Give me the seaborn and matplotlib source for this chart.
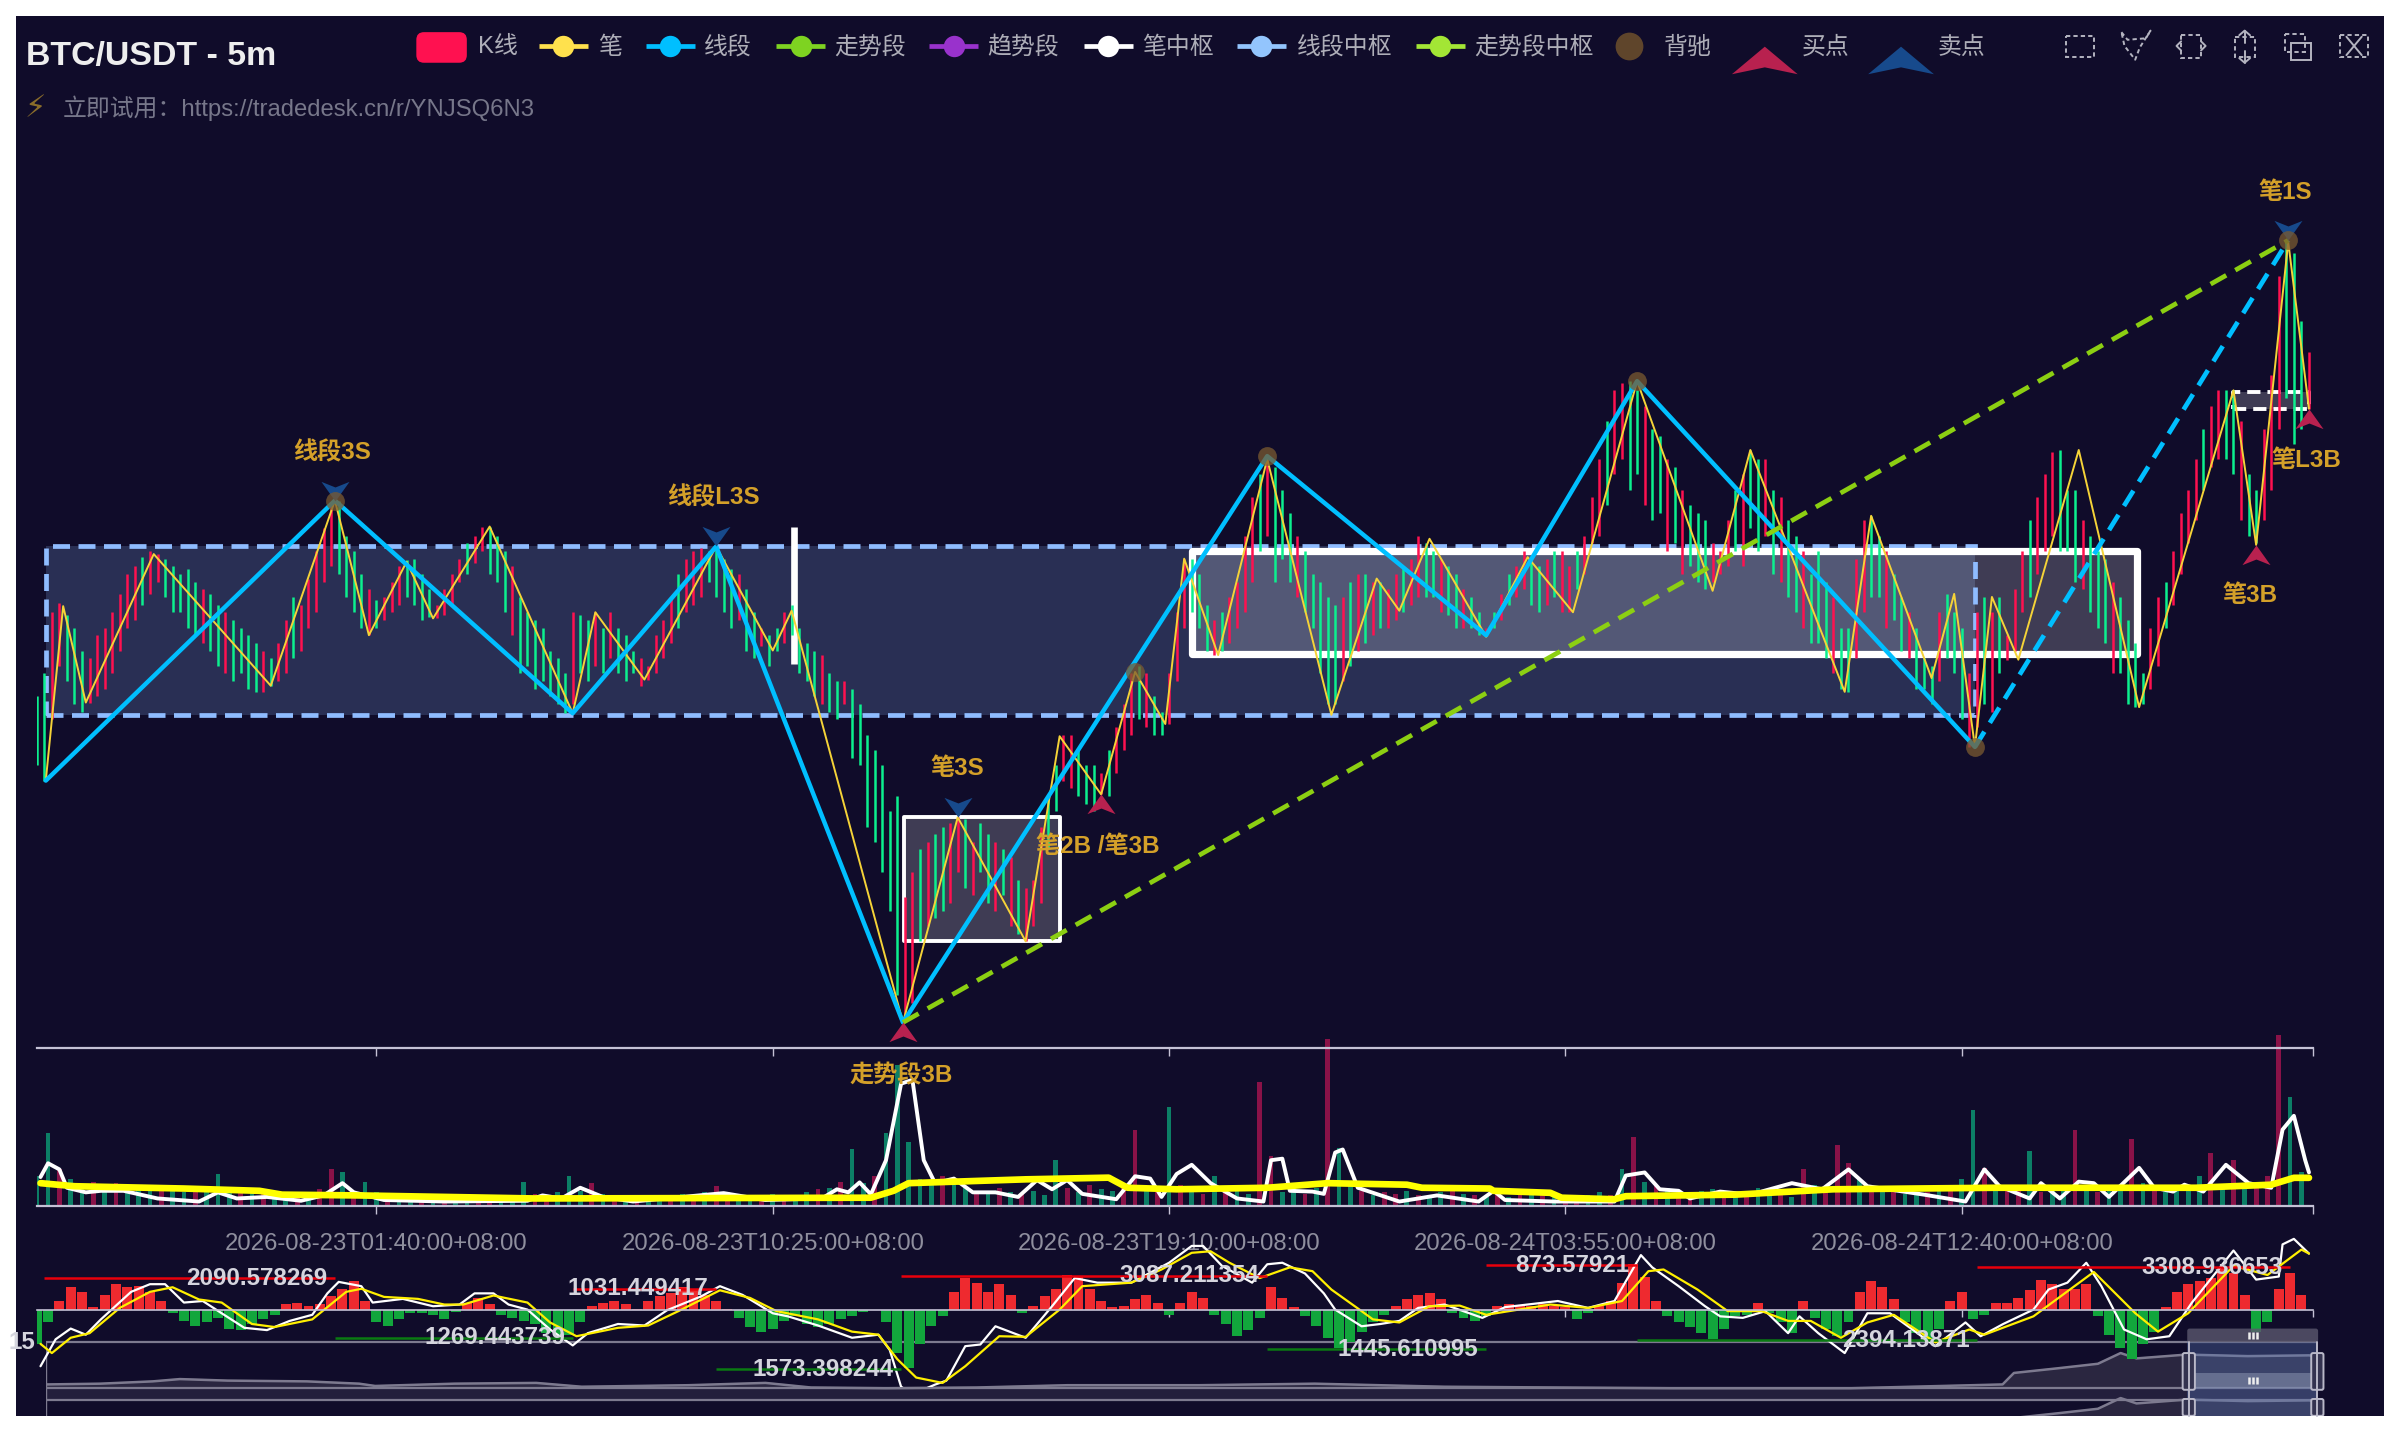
import matplotlib
matplotlib.use('Agg')
import matplotlib.pyplot as plt
import numpy as np
import seaborn as sns
from matplotlib.patches import Rectangle, FancyBboxPatch, Polygon
from matplotlib.path import Path

# --- 笔 / 线段 / 走势段 转折点 (bar index, price) ---
bi_x = [2.4, 7, 13, 31, 62, 79, 88, 98, 105, 120, 142, 148, 161, 180, 195, 200, 229.5, 244, 262, 271, 282, 291, 299, 304,
        313, 326, 343, 355, 361, 369, 384, 395, 407, 424, 444, 454, 479, 486, 502, 508, 513.5, 518, 525, 541, 557, 582,
        588, 596.5, 602]
bi_y = [490, 604, 541, 638, 552, 673, 585, 633, 596, 656, 534, 600, 556, 643, 575, 601, 332, 466, 385, 519, 481, 561,
        527, 635, 572, 700, 533, 622, 601, 648, 584, 636, 600, 751, 614, 706, 548, 663, 557, 612, 512, 610, 569, 706,
        538, 745, 644, 842, 733]
seg_x = [2.4, 79, 142, 180, 229.5, 326, 384, 424, 513.5]
seg_y = [490, 673, 534, 643, 332, 702, 585, 751, 512]
seg_dash_x = [513.5, 596.5]
seg_dash_y = [512, 843]
trend_x = [229.5, 596.5]
trend_y = [332, 843]

# K线: one candle every two bars, ten per row
kline_high = [
    545, 560, 600, 606, 598, 590, 575, 570, 585, 590,
    600, 612, 625, 630, 636, 640, 638, 635, 630, 625,
    628, 620, 615, 612, 605, 600, 595, 590, 585, 580,
    575, 570, 580, 595, 610, 605, 622, 640, 655, 672,
    673, 650, 640, 625, 615, 608, 610, 620, 630, 634,
    635, 625, 615, 605, 615, 625, 635, 645, 650, 656,
    656, 650, 640, 630, 610, 600, 595, 590, 575, 570,
    560, 600, 598, 595, 600, 590, 600, 590, 585, 575,
    570, 565, 585, 595, 610, 625, 635, 640, 642, 640,
    645, 635, 628, 625, 615, 600, 590, 585, 590, 600,
    605, 590, 580, 575, 572, 560, 555, 555, 550, 540,
    520, 510, 500, 470, 480, 414, 430, 445, 450, 455,
    460, 462, 466, 465, 450, 462, 455, 450, 445, 440,
    425, 420, 425, 460, 480, 500, 520, 520, 510, 500,
    500, 495, 510, 525, 540, 560, 565, 560, 545, 535,
    560, 600, 635, 635, 625, 605, 595, 600, 610, 620,
    650, 675, 690, 700, 695, 680, 665, 650, 640, 625,
    620, 610, 605, 610, 620, 625, 625, 620, 620, 615,
    625, 630, 635, 650, 645, 640, 635, 630, 625, 615,
    610, 600, 590, 600, 612, 625, 630, 640, 635, 630,
    635, 640, 640, 630, 640, 650, 675, 700, 725, 745,
    750, 751, 745, 735, 720, 715, 700, 695, 680, 670,
    665, 660, 645, 640, 660, 680, 690, 706, 700, 700,
    680, 675, 660, 650, 640, 625, 640, 620, 610, 590,
    590, 635, 660, 663, 650, 640, 625, 610, 600, 590,
    570, 565, 600, 612, 600, 590, 560, 600, 610, 600,
    610, 585, 615, 640, 660, 675, 690, 705, 706, 680,
    680, 660, 650, 640, 635, 620, 610, 595, 580, 560,
    590, 610, 620, 640, 665, 680, 700, 720, 735, 745,
    745, 745, 725, 690, 680, 720, 755, 820, 843, 835,
    790, 770]
kline_low = [
    500, 490, 530, 565, 555, 540, 535, 541, 545, 550,
    560, 575, 590, 595, 605, 612, 620, 610, 600, 600,
    590, 585, 580, 575, 565, 560, 555, 560, 550, 548,
    548, 552, 555, 560, 570, 575, 590, 600, 620, 630,
    625, 610, 600, 590, 585, 590, 595, 600, 605, 610,
    605, 595, 597, 596, 598, 605, 620, 625, 632, 640,
    625, 620, 600, 585, 560, 565, 550, 555, 545, 540,
    534, 540, 560, 555, 565, 560, 570, 560, 555, 560,
    552, 556, 560, 570, 580, 590, 600, 605, 610, 620,
    610, 600, 590, 595, 575, 570, 578, 565, 575, 580,
    585, 560, 555, 545, 540, 535, 530, 540, 505, 500,
    460, 450, 430, 405, 350, 332, 345, 385, 395, 400,
    405, 410, 430, 420, 415, 430, 410, 405, 415, 395,
    390, 385, 395, 410, 445, 470, 490, 485, 480, 475,
    470, 481, 480, 495, 510, 520, 530, 525, 520, 520,
    527, 555, 590, 600, 590, 575, 572, 575, 580, 590,
    600, 620, 640, 650, 620, 635, 620, 610, 600, 590,
    560, 540, 540, 555, 565, 575, 580, 585, 590, 590,
    595, 600, 605, 610, 610, 610, 600, 598, 590, 590,
    590, 585, 585, 590, 595, 605, 610, 615, 605, 600,
    605, 610, 600, 600, 615, 625, 645, 650, 670, 690,
    700, 680, 690, 670, 660, 665, 640, 645, 625, 630,
    620, 615, 620, 625, 630, 640, 630, 655, 640, 650,
    625, 620, 610, 600, 590, 580, 580, 570, 560, 550,
    548, 570, 600, 610, 610, 590, 595, 575, 570, 550,
    550, 540, 555, 570, 560, 530, 512, 525, 540, 535,
    560, 569, 575, 600, 610, 625, 640, 650, 640, 640,
    620, 615, 600, 590, 580, 560, 560, 540, 538, 540,
    550, 565, 590, 605, 625, 645, 660, 680, 695, 700,
    700, 690, 660, 650, 645, 660, 680, 720, 740, 710,
    720, 733]
kline_dir = ('DDUUDDDUUU' 'UUUUDUUDDD' 'DDUDDUDDDD' 'UDUUDUUUUU' 'DDDDUDUUUD' 'DDDUUUUDUU' 'DDDUDDDDDD' 'DUDDUDUDDD'
             'UUUUUDUUUD' 'DDDUDDUDDU' 'DDDDUDDUDD' 'DDDDDUUDUD' 'DUUDUDDUDU' 'DUUUDDUUDD' 'DUDUUUDUDD' 'UUUDDDUDUU'
             'UUDUDDDUDD' 'DDDUDUDUDU' 'UDUUDDUDDU' 'DDUDUDUUDD' 'UDUUDUUUDU' 'UDDUDDUDUD' 'DDUUUDUDDU' 'DUDDUDDDUD'
             'DUUDDUDDUD' 'DDUDDDUUDU' 'DUUUDUUUDD' 'DUDDDUDDDD' 'UUDUUUUDUU' 'DDUDDUUUDD' 'DU')

# 中枢 boxes: start bar, end bar, low, high
seg_zone = (2.4, 513.5, 533, 643)
bi_zone_a = (229.7, 271, 385, 466)
bi_zone_b = (306, 556.5, 573, 640)
bi_zone_c = (582, 602, 733, 744)
bi_zone_flat = (200.7, 566, 656)

# signals
div_x = [79, 291, 326, 424, 513.5, 596.5]
div_y = [673, 561, 702, 751, 512, 843]
sell_x = [79, 180, 244, 596.5]
sell_y = [673, 643, 466, 843]
buy_x = [229.5, 282, 588, 602]
buy_y = [332, 481, 644, 733]
label_text = ['线段3S', '线段L3S', '笔3S', '笔2B /笔3B', '走势段3B', '笔3B', '笔L3B', '笔1S']
label_x = [78.2, 179.2, 244, 281, 229, 586.4, 601.2, 595.6]
label_y = [704, 675, 498, 447, 297, 611, 699, 874]

# volume: one bar every three bars
vol = [
    20, 48, 24, 18, 14, 16, 12, 15, 13, 11,
    14, 12, 10, 9, 11, 13, 21, 10, 9, 12,
    8, 10, 9, 7, 9, 11, 24, 22, 10, 16,
    9, 8, 7, 6, 8, 5, 7, 6, 5, 6,
    5, 6, 7, 16, 8, 6, 9, 20, 10, 15,
    8, 6, 7, 5, 6, 7, 5, 8, 6, 9,
    13, 9, 7, 6, 5, 8, 5, 7, 9, 11,
    12, 16, 37, 15, 20, 48, 92, 42, 18, 14,
    20, 14, 12, 10, 8, 12, 9, 8, 10, 7,
    30, 12, 9, 14, 11, 10, 13, 50, 12, 9,
    65, 14, 10, 8, 20, 9, 12, 8, 81, 33,
    9, 12, 8, 12, 109, 38, 14, 10, 7, 9,
    8, 10, 7, 6, 9, 12, 8, 7, 6, 8,
    6, 8, 9, 7, 6, 5, 6, 7, 9, 7,
    24, 45, 16, 14, 12, 9, 8, 10, 11, 7,
    6, 8, 12, 8, 10, 6, 24, 14, 9, 40,
    28, 18, 10, 9, 12, 8, 7, 9, 11, 10,
    18, 63, 25, 12, 14, 10, 36, 9, 12, 11,
    50, 12, 9, 10, 14, 44, 15, 10, 9, 12,
    14, 20, 35, 13, 30, 15, 12, 20, 112, 71,
    22]
vol_dir = ('DDUDDUDUDD' 'DUDDUDDDUD' 'UDDUDUUDUD' 'DUDDUDUDDU' 'UDDDUUDDDU' 'DUDUDDUDUD' 'UUDDUDUDDU' 'DUDDUDDDDD'
           'UDDUDUDUDD' 'DUDUDDUUDU' 'DUDUDUDDUU' 'DDUDUDDUDU' 'UDUDDUDUDU' 'DUDUDUUDDU' 'DUDUDUUDDU' 'DUDDUDUDUU'
           'UDUDUDDUDU' 'DDUDUUDUDD' 'UDUDDUDUDD' 'DDUDUDUUUD' 'D')
vol_ma_x = [1, 3, 6, 8, 13, 17, 23, 32, 43, 48, 53, 61, 70, 76, 81, 84, 92, 108, 130, 134, 139, 144, 150, 158, 182, 193,
            208, 212, 215, 218, 221, 225, 229, 232, 235, 238, 243, 248, 254, 260, 265, 269, 273, 277, 286, 291, 295,
            298, 302, 306, 311, 318, 325, 327, 330, 332, 338, 341, 344, 346, 350, 361, 371, 382, 386, 389, 402, 418,
            421, 426, 430, 435, 438, 446, 454, 465, 473, 480, 485, 500, 511, 516, 520, 528, 531, 536, 541, 545, 549,
            557, 561, 566, 569, 574, 580, 586, 592, 595, 598, 601, 602]
vol_ma_y = [19, 28, 24, 12, 9, 10, 10, 5, 3, 9, 5, 6, 3.5, 7, 15, 9, 4, 3, 3.5, 7, 5, 12, 6, 3, 8.5, 4, 5, 11, 9, 15.5,
            7.7, 30, 80, 82.5, 30, 15, 18, 9, 9, 6, 17, 11, 17, 8, 4.5, 19.5, 18, 6, 21, 27, 15, 5, 3, 30, 31, 10, 9.5,
            8, 35, 37, 12, 3, 7, 3, 10, 4, 3, 3, 20, 22, 11, 10, 5, 9.5, 7.5, 15, 11, 24, 13, 7.5, 3, 24, 13, 5, 15, 5,
            16, 15, 6, 25, 12, 9.5, 14, 9.5, 27, 15, 12, 50, 59, 30, 22]
vol_ma2_x = [1, 10, 39, 59, 65, 85, 132, 221, 227, 231, 262, 284, 289, 302, 326, 342, 363, 367, 385, 386, 401, 404, 418,
             421, 450, 476, 519, 572, 592, 598, 602]
vol_ma2_y = [15, 13, 11.5, 10, 7.5, 7, 5, 5.5, 10, 15, 17.5, 18.6, 12, 11, 12, 15, 14, 12, 11.5, 10, 8.7, 5.5, 4.5, 6.5,
             7.5, 11, 12, 12, 14, 18.5, 18.5]

# MACD histogram: one bar every three bars
macd_hist = [
    -22, -8, 6, 15, 12, 2, 10, 17, 15, 16,
    12, 6, -2, -7, -10, -8, -5, -12, -13, -9,
    -6, -3, 4, 5, 3, 4, 9, 14, 19, 6,
    -8, -10, -6, -2, -2, -3, -6, -1, 5, 8,
    4, -3, -5, -7, -9, -15, -17, -16, -8, 3,
    5, 6, 4, 1, 6, 9, 11, 15, 14, 10,
    6, 1, -5, -11, -14, -12, -7, -4, -9, -11,
    -9, -6, -4, -1, 0, -8, -28, -38, -22, -10,
    -4, 12, 21, 18, 12, 17, 10, -2, 3, 9,
    14, 23, 22, 14, 6, 2, 3, 7, 10, 5,
    -3, 5, 12, 8, -3, -9, -17, -13, -5, 15,
    8, 2, -4, -10, -18, -25, -21, -14, -8, -3,
    3, 7, 10, 11, 7, -2, -5, -7, -4, 3,
    4, 3, 3, 4, 3, 2, -6, -2, 3, 6,
    18, 30, 22, 6, -4, -8, -11, -15, -19, -12,
    -4, -3, 5, -2, -8, -15, 6, -5, -12, -17,
    -8, 12, 19, 15, 7, -8, -15, -20, -12, 6,
    12, -6, -3, 5, 5, 8, 13, 20, 17, 14,
    14, 17, -4, -16, -25, -32, -22, -14, 2, 12,
    17, 19, 21, 28, 24, 10, -14, -8, 14, 24,
    10]
dif_x = [1, 5, 9, 13, 17, 25, 30, 34, 39, 44, 49, 55, 61, 67, 73, 77, 80, 86, 89, 97, 105, 112, 116, 121, 125, 130, 136,
         142, 146, 154, 161, 167, 176, 181, 187, 195, 199, 207, 216, 223, 226, 229, 232, 238, 241, 246, 250, 254, 262,
         269, 275, 281, 290, 300, 306, 309, 314, 322, 326, 330, 336, 341, 344, 351, 356, 361, 366, 373, 383, 389, 403,
         411, 418, 425, 428, 435, 442, 446, 452, 458, 464, 467, 472, 479, 485, 491, 503, 511, 515, 521, 529, 533, 538,
         543, 547, 553, 559, 565, 571, 582, 588, 594, 595, 598, 602]
dif_y = [-36.6, -19, -12, -16, -6, 12, 17, 17, 5, 6, -2, -11.5, -13, -7, -3, 11, 18.5, 15.7, 5, 7.4, 2.6, 3.7, 11, 11,
         3.7, 0.4, -12.6, -23, -15, -9, -10, 0, 9, 15.7, 10, -2, -4, -10, -18, -16, -26, -50, -55, -48.6, -46, -23.5,
         -22.4, -10.5, -18, 2.6, 21, 18, 18, 31, 42, 42, 29, 18, 30, 31, 24, 11, 0.4, -10.5, -9, -7, 1.5, 3.7, -5, 2,
         6, 1.5, 6, 36, 28, 15.7, 2.6, -4, -5, -0.6, -15, -4, -15, -28, -2, -2, -23.5, -8, -17, -9, 0.4, 13.5, 18, 31,
         15.7, -12.6, -19, -17, 5, 39, 20, 22, 43, 46.6, 37]
dea_x = [1, 4, 9, 14, 22, 30, 36, 43, 49, 57, 63, 73, 82, 86, 92, 101, 108, 113, 121, 130, 136, 143, 154, 162, 170, 181,
         189, 196, 207, 216, 223, 228, 233, 240, 246, 255, 262, 271, 277, 290, 298, 306, 311, 316, 324, 332, 338, 343,
         351, 354, 361, 369, 377, 384, 401, 411, 420, 427, 431, 440, 448, 457, 464, 470, 478, 485, 492, 503, 512, 516,
         529, 545, 556, 562, 570, 582, 591, 600, 602]
dea_y = [-22, -28, -18, -15, 1.5, 12, 15, 7, 5, -9, -11, -6, 12, 14, 8.7, 7.4, 3.7, 3.7, 9.6, 5, -8, -17, -11.5, -10,
         -0.6, 13, 8, -0.6, -6, -14, -16, -32, -44, -47.5, -36.6, -17, -17.4, 0.4, 15.7, 18, 26.6, 37.5, 38.5, 31, 21,
         28, 25.5, 13.5, -0.6, -6, -8, 2.6, 3, -3, 3.7, 1.5, 6, 25.5, 26.6, 13.5, -0.6, -0.6, -7, -7, -18, -8, -3, -21,
         -12.6, -16, -4, 25, -2, -14, -2, 29, 23, 39.6, 37]

# MACD extreme markers
mark_start = [2, 142, 229, 384, 514, 79, 180, 326, 424]
mark_end = [79, 180, 326, 424, 597, 142, 229, 384, 514]
mark_val = [21, 14, 22.5, 29.5, 28, -18, -38.6, -25.4, -19.5]
mark_text = ['2090.578269', '1031.449417', '3087.211354', '873.57921', '3308.936653',
             '1269.443739', '1573.398244', '1445.610995', '2394.13871']

# data zoom shadow (percent of range, height)
shadow_x = [0, 2.4, 4.7, 5.9, 8, 11.5, 13.8, 14.5, 18, 21.6, 23.6, 28.3, 31.7, 33.7, 37, 41, 45, 50.8, 55.9, 61.6, 71.7,
            79.5, 86.2, 86.7, 88.6, 90.4, 91.4, 92.1, 94.3, 97, 99.7, 100]
shadow_y = [2.5, 3, 4.5, 6, 5, 4.5, 3, 1.5, 3, 3.5, 1, 2, 3.5, 0.5, 0, 0.5, 2, 2, 3, 1, 0, 0, 2.5, 10, 13, 16, 23, 19.5,
            22, 21, 21.5, 21]

tick_bars = [90, 195, 300, 405, 510, 603]
tick_text = ['2026-08-23T01:40:00+08:00', '2026-08-23T10:25:00+08:00', '2026-08-23T19:10:00+08:00',
             '2026-08-24T03:55:00+08:00', '2026-08-24T12:40:00+08:00', '']

legend_names = ['K线', '笔', '线段', '走势段', '趋势段', '笔中枢', '线段中枢', '走势段中枢', '背驰', '买点', '卖点']
legend_colors = ['#ff1150', '#ffe14d', '#00bfff', '#7ed321', '#9932cc', '#ffffff', '#93c5fd', '#a3e635', '#5f452b',
                 '#b8214f', '#174a8c']

BG = '#100c2a'
UP = '#ff1150'
DOWN = '#0cf08e'
GOLD = '#d4a029'
BUY = '#b8214f'
SELL = '#174a8c'

sns.set_theme(style='dark', rc={'axes.facecolor': 'none', 'figure.facecolor': 'white'})
plt.rcParams['font.family'] = ['Liberation Sans', 'Noto Sans CJK SC', 'DejaVu Sans']

fig = plt.figure(figsize=(12, 7.2), dpi=200)
IMG_W, IMG_H = 1568, 940.8


def pane(x0, y0, x1, y1, z):
    ax = fig.add_axes([x0 / IMG_W, 1 - y1 / IMG_H, (x1 - x0) / IMG_W, (y1 - y0) / IMG_H], zorder=z)
    ax.patch.set_visible(False)
    return ax


def clean(ax, xlim=(0, 603)):
    ax.set_xlim(*xlim)
    ax.set_xlabel('')
    ax.set_ylabel('')
    ax.set_yticks([])
    for side in ['top', 'left', 'right', 'bottom']:
        ax.spines[side].set_visible(False)


ax_bg = pane(10.5, 10.5, 1557.5, 925, 0)
ax_bg.patch.set_visible(True)
ax_bg.set_facecolor(BG)
ax_bg.set_xticks([])
ax_bg.set_yticks([])
for s in ax_bg.spines.values():
    s.set_visible(False)

# --- volume ---
ax_vol = pane(24, 676, 1511, 788, 1)
sns.barplot(x=np.arange(len(vol)) * 3, y=vol, hue=list(vol_dir), palette={'U': '#8a1248', 'D': '#0c7f66'},
            native_scale=True, width=0.42, dodge=False, legend=False, saturation=1, linewidth=0, ax=ax_vol)
sns.lineplot(x=vol_ma_x, y=vol_ma_y, color='white', linewidth=1.4, estimator=None, sort=False, ax=ax_vol)
sns.lineplot(x=vol_ma2_x, y=vol_ma2_y, color='#ffff00', linewidth=2.4, estimator=None, sort=False, ax=ax_vol)
clean(ax_vol)
ax_vol.set_ylim(0, 112)
ax_vol.spines['bottom'].set_visible(True)
ax_vol.spines['bottom'].set_color('#c5c2d6')
ax_vol.spines['bottom'].set_linewidth(0.8)
ax_vol.set_xticks(tick_bars)
ax_vol.set_xticklabels(tick_text, fontsize=8.6, color='#8f8f9e')
ax_vol.tick_params(axis='x', bottom=True, length=2.8, width=0.5, color='#c5c2d6', pad=6.7)

# --- data zoom ---
ax_zoom = pane(30, 868, 1513, 925, 2)
sns.lineplot(x=shadow_x, y=shadow_y, color='#7d7a8f', linewidth=0.9, estimator=None, sort=False, ax=ax_zoom)
ax_zoom.fill_between(shadow_x, shadow_y, 0, color='#2a2640', zorder=0)
sns.lineplot(x=shadow_x, y=np.array(shadow_y) - 29.4, color='#7d7a8f', linewidth=0.9, estimator=None, sort=False,
             ax=ax_zoom)
ax_zoom.fill_between(shadow_x, np.array(shadow_y) - 29.4, -29.4, color='#2a2640', zorder=0)
clean(ax_zoom, (0, 100))
ax_zoom.set_xticks([])
ax_zoom.set_ylim(-18, 39)
ax_zoom.add_patch(Rectangle((0, -7.7), 100, 7.7, facecolor='#231f3c', edgecolor='none'))
ax_zoom.axhline(30, color='#7d7a8f', lw=0.8)
ax_zoom.axhline(0, color='#7d7a8f', lw=0.8)
ax_zoom.axhline(-7.7, color='#7d7a8f', lw=0.8)
ax_zoom.axvline(0, ymax=48 / 57, color='#7d7a8f', lw=0.5)

# --- MACD ---
ax_macd = pane(24, 808, 1511, 906, 3)
sns.barplot(x=np.arange(len(macd_hist)) * 3, y=macd_hist, hue=['p' if v >= 0 else 'n' for v in macd_hist],
            palette={'p': '#ee2a2f', 'n': '#12a63c'}, native_scale=True, width=0.88, dodge=False, legend=False,
            saturation=1, linewidth=0, ax=ax_macd)
sns.lineplot(x=dif_x, y=dif_y, color='white', linewidth=0.8, estimator=None, sort=False, ax=ax_macd)
sns.lineplot(x=dea_x, y=dea_y, color='#ffef00', linewidth=0.8, estimator=None, sort=False, ax=ax_macd)
clean(ax_macd)
ax_macd.set_ylim(-50, 48)
ax_macd.spines['bottom'].set_visible(True)
ax_macd.spines['bottom'].set_position(('data', 0))
ax_macd.spines['bottom'].set_color('#c5c2d6')
ax_macd.spines['bottom'].set_linewidth(0.6)
ax_macd.set_xticks(tick_bars)
ax_macd.set_xticklabels([])
ax_macd.tick_params(axis='x', bottom=True, length=2.6, width=0.5, color='#c5c2d6')
for a, b, v, t in zip(mark_start, mark_end, mark_val, mark_text):
    ax_macd.plot([a, b], [v, v], color='#e8000b' if v > 0 else '#0a7a12', lw=0.9, solid_capstyle='butt', clip_on=False)
    ax_macd.text(b - 2, v, t, ha='right', va='center', fontsize=8.7, fontweight='bold', color='#d5d5de', clip_on=False)

# --- price ---
ax_k = pane(24, 100, 1511, 685, 4)
box = seg_zone
ax_k.add_patch(Rectangle((box[0], box[2]), box[1] - box[0], box[3] - box[2], facecolor='#8fbcff', alpha=0.2,
                         edgecolor='none', zorder=1))
ax_k.add_patch(Rectangle((box[0], box[2]), box[1] - box[0], box[3] - box[2], fill=False, edgecolor='#8fbcff', lw=1.7,
                         linestyle=(0, (3.6, 1.8)), zorder=2))
for box, lw, ls in [(bi_zone_a, 1.4, '-'), (bi_zone_b, 2.6, '-'), (bi_zone_c, 1.4, (0, (3.4, 1.8)))]:
    ax_k.add_patch(Rectangle((box[0], box[2]), box[1] - box[0], box[3] - box[2], facecolor='white', alpha=0.2,
                             edgecolor='none', zorder=1))
    ax_k.add_patch(Rectangle((box[0], box[2]), box[1] - box[0], box[3] - box[2], fill=False, edgecolor='white', lw=lw,
                             linestyle=ls, joinstyle='round', zorder=2))
ax_k.plot([bi_zone_flat[0]] * 2, bi_zone_flat[1:], color='white', lw=2.4, solid_capstyle='butt', zorder=2)

kline_x = np.arange(len(kline_high)) * 2
ax_k.vlines(kline_x, kline_low, kline_high, colors=[UP if d == 'U' else DOWN for d in kline_dir], lw=0.9, zorder=3)

sns.lineplot(x=bi_x, y=bi_y, color='#f5d338', linewidth=0.7, estimator=None, sort=False, ax=ax_k, zorder=4)
sns.lineplot(x=seg_x, y=seg_y, color='#00bfff', linewidth=1.6, estimator=None, sort=False, ax=ax_k, zorder=5)
sns.lineplot(x=seg_dash_x, y=seg_dash_y, color='#00bfff', linewidth=1.7, linestyle=(0, (3.8, 2.2)), estimator=None,
             sort=False, ax=ax_k, zorder=5)
sns.lineplot(x=trend_x, y=trend_y, color='#8ccf12', linewidth=1.7, linestyle=(0, (3.8, 2.2)), estimator=None,
             sort=False, ax=ax_k, zorder=5)

buy_marker = Path([(0, 0), (1, -1.4), (0, -1.0), (-1, -1.4), (0, 0)], closed=True)
sell_marker = Path([(0, 0), (1, 1.4), (0, 1.0), (-1, 1.4), (0, 0)], closed=True)
sns.scatterplot(x=sell_x, y=sell_y, color=SELL, marker=sell_marker, s=200, linewidth=0, ax=ax_k, zorder=6,
                clip_on=False)
sns.scatterplot(x=buy_x, y=buy_y, color=BUY, marker=buy_marker, s=200, linewidth=0, ax=ax_k, zorder=6, clip_on=False)
sns.scatterplot(x=div_x, y=div_y, color='#7a5a30', s=46, alpha=0.75, linewidth=0, ax=ax_k, zorder=7, clip_on=False)
for x, y, t in zip(label_x, label_y, label_text):
    ax_k.text(x, y, t, ha='center', va='center', fontsize=8.7, fontweight='bold', color=GOLD, zorder=8, clip_on=False)
clean(ax_k)
ax_k.set_ylim(315, 900)
ax_k.spines['bottom'].set_visible(True)
ax_k.spines['bottom'].set_color('#c5c2d6')
ax_k.spines['bottom'].set_linewidth(0.8)
ax_k.set_xticks(tick_bars)
ax_k.set_xticklabels([])
ax_k.tick_params(axis='x', bottom=True, length=2.8, width=0.5, color='#c5c2d6')

# --- title, legend, toolbox, zoom handles ---
ax_top = fig.add_axes([0, 0, 1, 1], zorder=5)
ax_top.patch.set_visible(False)
ax_top.set_xlim(0, IMG_W)
ax_top.set_ylim(IMG_H, 0)
ax_top.axis('off')

ax_top.text(17, 37, 'BTC/USDT - 5m', fontsize=12.2, fontweight='bold', color='#eeeeee', va='center')
ax_top.text(16, 71, '⚡', fontsize=11, color='#8a6d2a', va='center', family='DejaVu Sans')
ax_top.text(41, 71, '立即试用：https://tradedesk.cn/r/YNJSQ6N3', fontsize=8.6, color='#77778a', va='center')

line_left = [None, 352, 422, 507, 607, 708, 808, 925]
text_left = [312, 391, 460, 545, 645, 746, 847, 963, 1087, 1177, 1266]
for i, name in enumerate(legend_names):
    ax_top.text(text_left[i], 31, name, fontsize=8.6, color='#aeaeb8', va='center')
    if line_left[i:i + 1] and line_left[i] is not None:
        x0 = line_left[i]
        ax_top.plot([x0, x0 + 32], [30, 30], color=legend_colors[i], lw=1.7, solid_capstyle='butt')
        ax_top.plot([x0 + 16], [30], 'o', color=legend_colors[i], ms=7.7, mew=0)
ax_top.add_patch(FancyBboxPatch((272, 21), 33, 20, boxstyle='round,pad=0,rounding_size=5', facecolor=legend_colors[0],
                                edgecolor='none'))
ax_top.plot([1064], [30], 'o', color=legend_colors[8], ms=10, mew=0)
for cx, c in [(1153, legend_colors[9]), (1242, legend_colors[10])]:
    ax_top.add_patch(Polygon([(cx, 30.5), (cx + 21.5, 48.5), (cx, 44), (cx - 21.5, 48.5)], closed=True, facecolor=c,
                             edgecolor='none'))

ICON = '#b4b4c0'
dash = (0, (2.2, 1.6))
ik = dict(color=ICON, lw=0.7)
ax_top.add_patch(Rectangle((1350, 23.5), 18, 13.5, fill=False, edgecolor=ICON, lw=0.7, linestyle=dash))
ax_top.plot([1386, 1390, 1402, 1405, 1398, 1395, 1388, 1386], [21, 26, 25, 20, 31, 39, 30, 21], linestyle=dash, **ik)
ax_top.add_patch(Rectangle((1425, 23), 13, 15, fill=False, edgecolor=ICON, lw=0.7, linestyle=dash))
ax_top.plot([1425, 1422, 1425], [27, 30, 33], **ik)
ax_top.plot([1438, 1441, 1438], [27, 30, 33], **ik)
ax_top.add_patch(Rectangle((1460, 24), 13, 13, fill=False, edgecolor=ICON, lw=0.7, linestyle=dash))
ax_top.plot([1463, 1466.5, 1470], [23, 20, 23], **ik)
ax_top.plot([1463, 1466.5, 1470], [38, 41, 38], **ik)
ax_top.plot([1466.5, 1466.5], [20, 28], **ik)
ax_top.plot([1466.5, 1466.5], [33, 41], **ik)
ax_top.add_patch(Rectangle((1493, 22), 13, 12, fill=False, edgecolor=ICON, lw=0.7, linestyle=dash))
ax_top.add_patch(Rectangle((1497, 28), 13, 11, fill=False, edgecolor=ICON, lw=0.7))
ax_top.add_patch(Rectangle((1529, 23), 18, 14, fill=False, edgecolor=ICON, lw=0.7, linestyle=dash))
ax_top.plot([1533, 1543], [24, 36], **ik)
ax_top.plot([1543, 1533], [24, 36], **ik)

ax_top.text(23, 877, '15', fontsize=8.7, fontweight='bold', color='#d5d5de', ha='right', va='center')

# zoom window
ax_top.add_patch(Rectangle((1429, 877), 85, 48, facecolor='#5a78b8', alpha=0.35, edgecolor='none'))
ax_top.add_patch(Rectangle((1430, 897), 83, 10, facecolor='#8a94b0', alpha=0.55, edgecolor='none'))
ax_top.add_patch(FancyBboxPatch((1429, 868), 85.5, 9, boxstyle='round,pad=0,rounding_size=1.5', facecolor='#5b586e',
                                alpha=0.8, edgecolor='none'))
for hx in (1426, 1510):
    ax_top.plot([hx + 4, hx + 4], [877, 925], color='#b9b8c8', lw=0.7)
    for hy, hh in [(884, 24), (914, 11)]:
        ax_top.add_patch(FancyBboxPatch((hx, hy), 8, hh, boxstyle='round,pad=0,rounding_size=1.2', facecolor='#343350',
                                        edgecolor='#b9b8c8', lw=0.7))
for gy in (872.5, 902):
    for gx in (1469.5, 1472, 1474.5):
        ax_top.plot([gx, gx], [gy - 2.5, gy + 2.5], color='#eeeeee', lw=0.9, solid_capstyle='butt')
ax_top.add_patch(Rectangle((0, 925), IMG_W, 20, facecolor='white', edgecolor='none'))

fig.savefig('out.png', dpi=200, facecolor='white')
